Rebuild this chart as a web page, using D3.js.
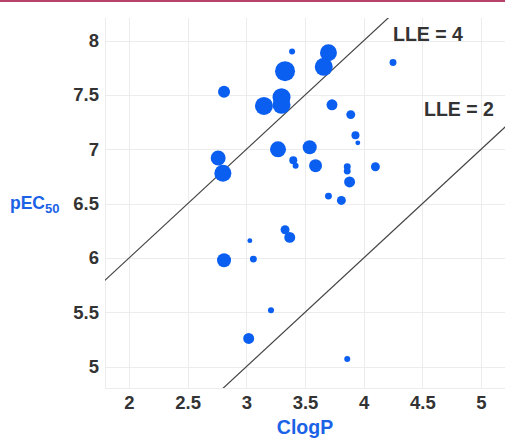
<!DOCTYPE html>
<html>
<head>
<meta charset="utf-8">
<script src="https://cdn.jsdelivr.net/npm/d3@7"></script>
<style>
  html, body { margin: 0; padding: 0; background: #fff; }
  #chart { width: 505px; height: 440px; }
  text { font-family: "Liberation Sans", Arial, sans-serif; }
</style>
</head>
<body>
<div id="chart"></div>
<script>
// compounds: ClogP, pEC50, bubble size
const clogP = [3.39, 3.70, 4.25, 3.33, 3.66, 2.81, 3.30, 3.30, 3.15, 3.73,
  3.89, 3.93, 3.95, 3.27, 3.54, 2.76, 2.80, 3.40, 3.42, 3.59,
  3.86, 3.86, 4.10, 3.88, 3.70, 3.81, 3.03, 3.33, 3.37, 2.81,
  3.06, 3.21, 3.02, 3.86];
const pEC50 = [7.90, 7.89, 7.80, 7.72, 7.76, 7.53, 7.48, 7.41, 7.40, 7.41,
  7.32, 7.13, 7.06, 7.00, 7.02, 6.92, 6.78, 6.90, 6.85, 6.85,
  6.84, 6.80, 6.84, 6.70, 6.57, 6.53, 6.16, 6.26, 6.19, 5.98,
  5.99, 5.52, 5.26, 5.07];
const sizeVal = [9, 72, 12, 100, 81, 36, 81, 81, 81, 30,
  20, 16, 6, 64, 49, 56, 72, 16, 9, 42,
  12, 12, 20, 30, 12, 20, 6, 20, 30, 49,
  12, 9, 30, 9];

const xTicks = [2, 2.5, 3, 3.5, 4, 4.5, 5];
const xTickLabels = ["2", "2.5", "3", "3.5", "4", "4.5", "5"];
const yTicks = [5, 5.5, 6, 6.5, 7, 7.5, 8];
const yTickLabels = ["5", "5.5", "6", "6.5", "7", "7.5", "8"];

// LLE = pEC50 - ClogP reference lines
const lleLines = [4, 2];

const W = 505, H = 440;
const plot = {left: 105, right: 505, top: 18, bottom: 388};

const svg = d3.select("#chart").append("svg")
  .attr("width", W).attr("height", H);

svg.append("rect").attr("x", 0).attr("y", 0).attr("width", W).attr("height", 2)
  .attr("fill", "#b8436a");

const x = d3.scaleLinear().domain([1.7955, 5.2045]).range([plot.left, plot.right]);
const y = d3.scaleLinear().domain([4.804, 8.209]).range([plot.bottom, plot.top]);
const r = d3.scaleSqrt().domain([0, 100]).range([0, 10]);

svg.append("clipPath").attr("id", "clip").append("rect")
  .attr("x", plot.left).attr("y", plot.top)
  .attr("width", plot.right - plot.left).attr("height", plot.bottom - plot.top);

// grid
const grid = svg.append("g").attr("stroke", "#ececec").attr("stroke-width", 1);
grid.selectAll("line.v").data(xTicks).enter().append("line")
  .attr("x1", d => Math.round(x(d)) + 0.5).attr("x2", d => Math.round(x(d)) + 0.5)
  .attr("y1", plot.top).attr("y2", plot.bottom);
grid.selectAll("line.h").data(yTicks).enter().append("line")
  .attr("x1", plot.left).attr("x2", plot.right)
  .attr("y1", d => Math.round(y(d)) + 0.5).attr("y2", d => Math.round(y(d)) + 0.5);
grid.append("line").attr("x1", plot.left + 0.5).attr("x2", plot.left + 0.5)
  .attr("y1", plot.top).attr("y2", plot.bottom);
grid.append("line").attr("x1", plot.left).attr("x2", plot.right)
  .attr("y1", plot.bottom + 0.5).attr("y2", plot.bottom + 0.5);

// axes (labels only)
const xAxis = svg.append("g").attr("transform", `translate(0,${plot.bottom})`)
  .call(d3.axisBottom(x).tickValues(xTicks).tickSize(0).tickPadding(8)
    .tickFormat((d, i) => xTickLabels[i]));
const yAxis = svg.append("g").attr("transform", `translate(${plot.left},0)`)
  .call(d3.axisLeft(y).tickValues(yTicks).tickSize(0).tickPadding(6)
    .tickFormat((d, i) => yTickLabels[i]));
[xAxis, yAxis].forEach(a => {
  a.select(".domain").remove();
  a.selectAll("text").attr("fill", "#333").attr("font-size", 18.5)
    .attr("font-weight", "bold").attr("font-family", "'Liberation Sans', Arial, sans-serif");
});

// LLE lines
const lineG = svg.append("g").attr("clip-path", "url(#clip)");
lineG.selectAll("line").data(lleLines).enter().append("line")
  .attr("x1", d => x(1.7)).attr("y1", d => y(1.7 + d))
  .attr("x2", d => x(5.3)).attr("y2", d => y(5.3 + d))
  .attr("stroke", "#444").attr("stroke-width", 1.2);

// points
const pts = clogP.map((c, i) => ({c, p: pEC50[i], s: sizeVal[i]}));
svg.append("g").selectAll("circle").data(pts).enter().append("circle")
  .attr("cx", d => x(d.c)).attr("cy", d => y(d.p)).attr("r", d => r(d.s))
  .attr("fill", "#0a5ff0");

// annotations
svg.append("text").attr("x", 393).attr("y", 41)
  .attr("font-size", 19.5).attr("font-weight", "bold").attr("fill", "#333")
  .text("LLE = 4");
svg.append("text").attr("x", 424).attr("y", 116)
  .attr("font-size", 19.5).attr("font-weight", "bold").attr("fill", "#333")
  .text("LLE = 2");

// axis titles
svg.append("text").attr("x", x(3.5)).attr("y", 434).attr("text-anchor", "middle")
  .attr("font-size", 19.5).attr("font-weight", "bold").attr("fill", "#1a62e6")
  .text("ClogP");
const yt = svg.append("text").attr("x", 10).attr("y", 209)
  .attr("font-size", 17.5).attr("font-weight", "bold").attr("fill", "#1a62e6");
yt.append("tspan").text("pEC");
yt.append("tspan").attr("font-size", 13).attr("dy", 4).text("50");
</script>
</body>
</html>
